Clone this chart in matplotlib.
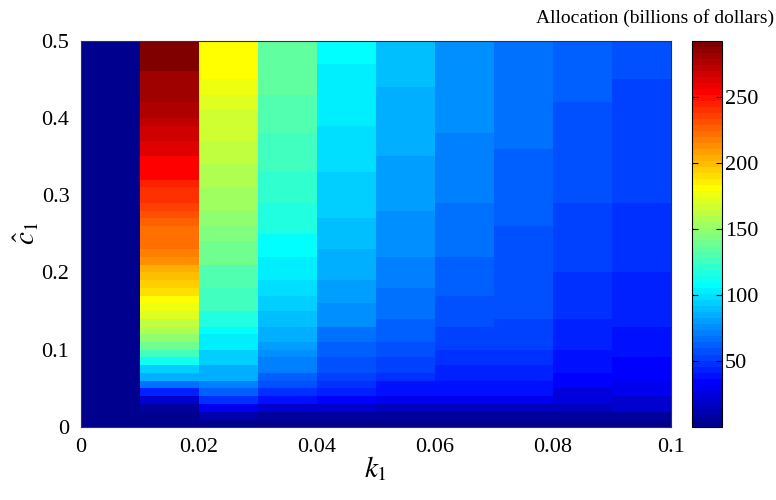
import numpy as np
import matplotlib
matplotlib.use('Agg')
import matplotlib.pyplot as plt
from matplotlib.colors import ListedColormap

# allocation (billions of dollars), one list per k1 column, rows c1 = 0 .. 0.49 (bottom to top)
k_edges = [0, 0.01, 0.02, 0.03, 0.04, 0.05, 0.06, 0.07, 0.08, 0.09, 0.1]
c_edges = np.arange(51) * 0.01

col_k00 = [0] * 50
col_k01 = [2, 4, 9, 20, 42, 65, 83, 94, 110, 127, 138, 147, 156, 164, 171, 176, 183, 190, 196, 200,
           205, 212, 216, 220, 220, 223, 228, 232, 236, 242, 242, 246, 252, 252, 256, 262, 262, 268, 268, 272,
           275, 275, 280, 280, 283, 283, 289, 289, 293, 293]
col_k02 = [3, 12, 30, 47, 62, 72, 84, 84, 93, 93, 103, 103, 109, 117, 117, 124, 124, 124, 132, 132,
           132, 138, 138, 138, 145, 145, 147, 147, 153, 153, 153, 158, 158, 158, 162, 162, 162, 167, 167, 167,
           167, 171, 171, 174, 174, 179, 179, 179, 179, 183]
col_k03 = [3, 6, 20, 37, 50, 59, 64, 70, 70, 74, 80, 84, 84, 90, 90, 94, 94, 99, 99, 103,
           103, 103, 109, 109, 109, 116, 116, 116, 116, 121, 121, 121, 121, 125, 125, 125, 125, 125, 129, 129,
           129, 129, 129, 133, 133, 133, 133, 133, 133, 133]
col_k04 = [3, 6, 20, 34, 42, 48, 53, 59, 59, 64, 64, 68, 68, 74, 74, 74, 80, 80, 80, 86,
           86, 86, 86, 90, 90, 90, 90, 96, 96, 96, 96, 96, 96, 100, 100, 100, 100, 100, 100, 104,
           104, 104, 104, 104, 104, 104, 104, 109, 109, 109]
col_k05 = [3, 6, 18, 32, 40, 40, 47, 53, 53, 57, 57, 61, 61, 61, 65, 65, 65, 65, 70, 70,
           70, 70, 74, 74, 74, 74, 74, 74, 78, 78, 78, 78, 78, 78, 78, 85, 85, 85, 85, 85,
           85, 85, 85, 85, 90, 90, 90, 90, 90, 90]
col_k06 = [3, 6, 16, 30, 38, 38, 43, 43, 47, 47, 52, 52, 52, 57, 57, 57, 57, 61, 61, 61,
           61, 61, 66, 66, 66, 66, 66, 66, 66, 71, 71, 71, 71, 71, 71, 71, 71, 71, 76, 76,
           76, 76, 76, 76, 76, 76, 76, 76, 76, 76]
col_k07 = [3, 6, 16, 28, 37, 37, 43, 43, 47, 47, 51, 51, 51, 51, 55, 55, 55, 55, 55, 59,
           59, 59, 59, 59, 59, 59, 63, 63, 63, 63, 63, 63, 63, 63, 63, 63, 67, 67, 67, 67,
           67, 67, 67, 67, 67, 67, 67, 67, 67, 67]
col_k08 = [3, 6, 16, 26, 26, 34, 34, 39, 39, 39, 43, 43, 43, 43, 47, 47, 47, 47, 47, 47,
           51, 51, 51, 51, 51, 51, 51, 51, 51, 56, 56, 56, 56, 56, 56, 56, 56, 56, 56, 56,
           56, 56, 61, 61, 61, 61, 61, 61, 61, 61]
col_k09 = [3, 8, 22, 22, 30, 30, 35, 35, 35, 41, 41, 41, 41, 45, 45, 45, 45, 45, 45, 45,
           49, 49, 49, 49, 49, 49, 49, 49, 49, 53, 53, 53, 53, 53, 53, 53, 53, 53, 53, 53,
           53, 53, 53, 53, 53, 59, 59, 59, 59, 59]

x_ticks = [0, 0.02, 0.04, 0.06, 0.08, 0.1]
x_labels = ['0', '0.02', '0.04', '0.06', '0.08', '0.1']
y_ticks = [0, 0.1, 0.2, 0.3, 0.4, 0.5]
y_labels = ['0', '0.1', '0.2', '0.3', '0.4', '0.5']
cb_ticks = [50, 100, 150, 200, 250]

Z = np.column_stack([col_k00, col_k01, col_k02, col_k03, col_k04,
                     col_k05, col_k06, col_k07, col_k08, col_k09])


def matlab_jet(n=64):
    # same construction as MATLAB's jet(n)
    m = n // 4
    u = np.concatenate([np.arange(1, m + 1) / m, np.ones(m - 1), np.arange(m, 0, -1) / m])
    g = int(np.ceil(m / 2)) - (1 if n % 4 == 1 else 0) + np.arange(1, len(u) + 1)
    r = g + m
    b = g - m
    rgb = np.zeros((n, 3))
    for ch, idx in enumerate([r, g, b]):
        keep = (idx >= 1) & (idx <= n)
        rgb[idx[keep] - 1, ch] = u[keep]
    return ListedColormap(rgb)


plt.rcParams['font.family'] = ['Liberation Serif', 'DejaVu Serif']
plt.rcParams['mathtext.fontset'] = 'stix'

fig = plt.figure(figsize=(7.76, 5.0), dpi=100)
ax = fig.add_axes([80.5 / 776, 73 / 500, 590.5 / 776, 386.5 / 500])
cax = fig.add_axes([692 / 776, 73 / 500, 30 / 776, 386.5 / 500])

cmap = matlab_jet(64)
mesh = ax.pcolormesh(k_edges, c_edges, Z, cmap=cmap, vmin=0, vmax=293, shading='flat')
ax.set_xlim(0, 0.1)
ax.set_ylim(0, 0.5)
ax.set_xticks(x_ticks)
ax.set_xticklabels(x_labels)
ax.set_yticks(y_ticks)
ax.set_yticklabels(y_labels)
ax.tick_params(axis='both', length=0, labelsize=16, pad=8)
for s in ax.spines.values():
    s.set_linewidth(0.8)
    s.set_color('#333333')

ax.set_xlabel(r'$k_1$', fontsize=21, labelpad=-2)
ax.set_ylabel(r'$\hat{c}_1$', fontsize=21, labelpad=0)

cb = fig.colorbar(mesh, cax=cax)
cb.set_ticks(cb_ticks)
cb.ax.tick_params(labelsize=16, direction='in', length=4, width=0.8, left=True, right=True, pad=2)
cb.outline.set_linewidth(0.8)

fig.text(655 / 776, 1 - 18 / 500, 'Allocation (billions of dollars)', ha='center', va='center', fontsize=14)

fig.savefig('out.png', dpi=100)
